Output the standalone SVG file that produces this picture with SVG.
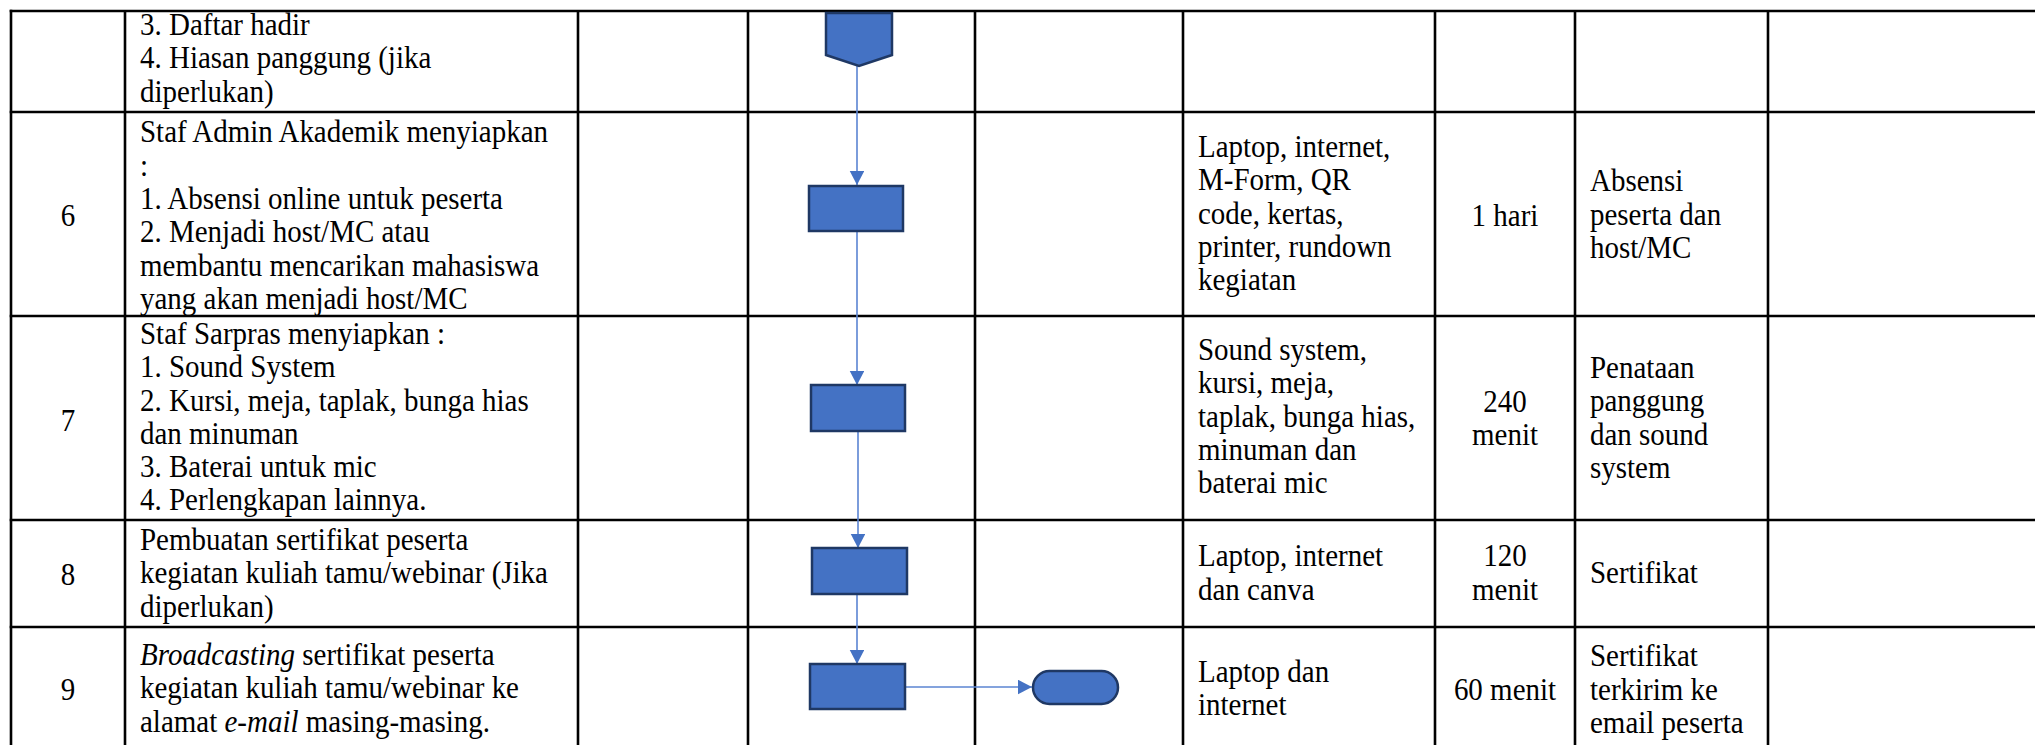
<svg xmlns="http://www.w3.org/2000/svg" width="2035" height="745" viewBox="0 0 2035 745">
<style>
.grid{stroke:#000;stroke-width:2.6;fill:none}
.t{font-family:"Liberation Serif","Times New Roman",serif;font-size:29px;fill:#000}
.c{text-anchor:middle}
.i{font-style:italic}
.shape{fill:#4472C4;stroke:#1F3864;stroke-width:2.5}
.conn{stroke:#5B84D2;stroke-width:1.6;fill:none}
</style>
<defs>
<marker id="arr" markerUnits="userSpaceOnUse" markerWidth="15" markerHeight="15" refX="14" refY="7.25" orient="auto">
<path d="M0,0 L14,7.25 L0,14.5 z" fill="#4472C4"/>
</marker>
</defs>
<rect width="2035" height="745" fill="#fff"/>
<g id="table">
<path class="grid" d="M9.7,11 H2035 M9.7,112 H2035 M9.7,316 H2035 M9.7,520 H2035 M9.7,627 H2035"/>
<path class="grid" d="M11,9.7 V745 M125,11 V745 M578,11 V745 M748,11 V745 M975,11 V745 M1183,11 V745 M1435,11 V745 M1575,11 V745 M1768,11 V745"/>
</g>
<g id="row5" class="t" transform="scale(1,1.12)">
<text x="140" y="31.25">3. Daftar hadir</text>
<text x="140" y="60.98">4. Hiasan panggung (jika</text>
<text x="140" y="90.71">diperlukan)</text>
</g>
<g id="row6" class="t" transform="scale(1,1.12)">
<text class="t c" x="68" y="202.23">6</text>
<text x="140" y="127.23">Staf Admin Akademik menyiapkan</text>
<text x="140" y="156.96">:</text>
<text x="140" y="186.70">1. Absensi online untuk peserta</text>
<text x="140" y="216.43">2. Menjadi host/MC atau</text>
<text x="140" y="246.16">membantu mencarikan mahasiswa</text>
<text x="140" y="275.89">yang akan menjadi host/MC</text>
<text x="1198" y="140.18">Laptop, internet,</text>
<text x="1198" y="169.91">M-Form, QR</text>
<text x="1198" y="199.64">code, kertas,</text>
<text x="1198" y="229.46">printer, rundown</text>
<text x="1198" y="259.20">kegiatan</text>
<text class="t c" x="1505" y="202.23">1 hari</text>
<text x="1590" y="170.98">Absensi</text>
<text x="1590" y="200.71">peserta dan</text>
<text x="1590" y="230.45">host/MC</text>
</g>
<g id="row7" class="t" transform="scale(1,1.12)">
<text class="t c" x="68" y="384.82">7</text>
<text x="140" y="307.14">Staf Sarpras menyiapkan :</text>
<text x="140" y="336.88">1. Sound System</text>
<text x="140" y="366.61">2. Kursi, meja, taplak, bunga hias</text>
<text x="140" y="396.34">dan minuman</text>
<text x="140" y="426.07">3. Baterai untuk mic</text>
<text x="140" y="455.80">4. Perlengkapan lainnya.</text>
<text x="1198" y="321.43">Sound system,</text>
<text x="1198" y="351.16">kursi, meja,</text>
<text x="1198" y="380.89">taplak, bunga hias,</text>
<text x="1198" y="410.71">minuman dan</text>
<text x="1198" y="440.45">baterai mic</text>
<text class="t c" x="1505" y="367.86">240</text>
<text class="t c" x="1505" y="397.59">menit</text>
<text x="1590" y="337.5">Penataan</text>
<text x="1590" y="367.23">panggung</text>
<text x="1590" y="396.96">dan sound</text>
<text x="1590" y="426.79">system</text>
</g>
<g id="row8" class="t" transform="scale(1,1.12)">
<text class="t c" x="68" y="522.32">8</text>
<text x="140" y="491.07">Pembuatan sertifikat peserta</text>
<text x="140" y="520.80">kegiatan kuliah tamu/webinar (Jika</text>
<text x="140" y="550.54">diperlukan)</text>
<text x="1198" y="505.80">Laptop, internet</text>
<text x="1198" y="535.54">dan canva</text>
<text class="t c" x="1505" y="505.80">120</text>
<text class="t c" x="1505" y="535.54">menit</text>
<text x="1590" y="520.80">Sertifikat</text>
</g>
<g id="row9" class="t" transform="scale(1,1.12)">
<text class="t c" x="68" y="625">9</text>
<text x="140" y="593.75"><tspan class="i">Broadcasting</tspan> sertifikat peserta</text>
<text x="140" y="623.48">kegiatan kuliah tamu/webinar ke</text>
<text x="140" y="653.21">alamat <tspan class="i">e-mail</tspan> masing-masing.</text>
<text x="1198" y="608.93">Laptop dan</text>
<text x="1198" y="638.66">internet</text>
<text class="t c" x="1505" y="625">60 menit</text>
<text x="1590" y="595.09">Sertifikat</text>
<text x="1590" y="624.82">terkirim ke</text>
<text x="1590" y="654.55">email peserta</text>
</g>
<g id="connectors">
<line class="conn" x1="857" y1="66" x2="857" y2="185" marker-end="url(#arr)"/>
<line class="conn" x1="857" y1="231" x2="857" y2="385" marker-end="url(#arr)"/>
<line class="conn" x1="858" y1="431" x2="858" y2="548" marker-end="url(#arr)"/>
<line class="conn" x1="857" y1="594" x2="857" y2="664" marker-end="url(#arr)"/>
<line class="conn" x1="905" y1="687" x2="1032" y2="687" marker-end="url(#arr)"/>
</g>
<g id="n-offpage"><polygon class="shape" points="826,13 892,13 892,55 859,66 826,55"/></g>
<g id="n-step6"><rect class="shape" x="809" y="186" width="94" height="45"/></g>
<g id="n-step7"><rect class="shape" x="811" y="385" width="94" height="46"/></g>
<g id="n-step8"><rect class="shape" x="812" y="548" width="95" height="46"/></g>
<g id="n-step9"><rect class="shape" x="810" y="664" width="95" height="45"/></g>
<g id="n-end"><rect class="shape" x="1033" y="671" width="85" height="33" rx="16.5"/></g>
</svg>
